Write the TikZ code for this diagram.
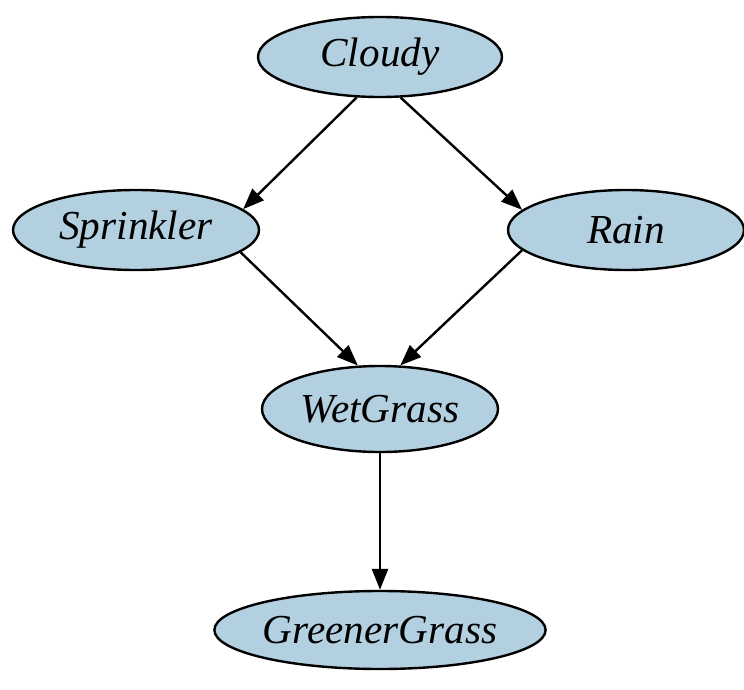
\documentclass[tikz,border=0pt]{standalone}
\usepackage{fontspec}
\setmainfont{Liberation Serif}
\usetikzlibrary{arrows.meta,shapes.geometric}
\definecolor{nodeblue}{RGB}{179,208,224}

\begin{document}
\begin{tikzpicture}[x=0.5pt,y=-0.5pt,>={Triangle[length=10.5pt,width=8pt]},
  bnode/.style={ellipse,draw,fill=nodeblue,line width=1.2pt,inner sep=0pt,
    font=\fontsize{20.6}{24}\selectfont\itshape},
  arr/.style={->,line width=1.2pt}]
\useasboundingbox (0,0) rectangle (744,690);
\node[bnode,minimum width=122pt,minimum height=40pt] (cloudy) at (380,57) {Cloudy};
\node[bnode,minimum width=123pt,minimum height=40pt] (sprinkler) at (136,230) {Sprinkler};
\node[bnode,minimum width=118pt,minimum height=40pt] (rain) at (626,230) {Rain};
\node[bnode,minimum width=118pt,minimum height=43pt] (wetgrass) at (380,409) {WetGrass};
\node[bnode,minimum width=157pt,minimum height=39pt] (greener) at (380,630) {GreenerGrass};
\draw[arr] (cloudy.240)--(sprinkler.11); \draw[arr] (cloudy.297)--(rain.169);
\draw[arr] (sprinkler.348)--(wetgrass.117); \draw[arr] (rain.191)--(wetgrass.65);
\draw[arr] (wetgrass)--(greener);
\end{tikzpicture}
\end{document}
